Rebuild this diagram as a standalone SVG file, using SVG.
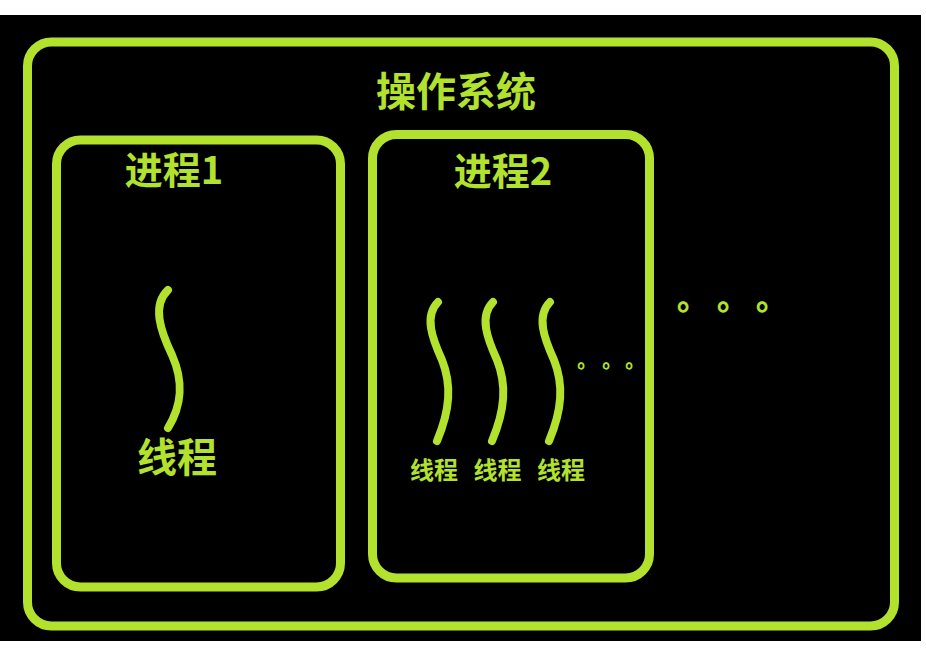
<svg xmlns="http://www.w3.org/2000/svg" width="926" height="648" viewBox="0 0 926 648">
<style>
.box{fill:none;stroke:#B2E22E;stroke-width:9}
.thr{fill:none;stroke:#B2E22E;stroke-width:8;stroke-linecap:round}
.t{fill:#B2E22E;font-family:"Microsoft YaHei","Noto Sans CJK SC",sans-serif;font-weight:bold;text-anchor:middle}
.dot{fill:#B2E22E;font-family:"Noto Sans CJK TC",sans-serif;font-weight:900;text-anchor:middle}
</style>
<rect x="0" y="0" width="926" height="648" fill="#ffffff"/>
<rect x="0" y="15" width="921" height="626" fill="#000000"/>
<g id="os">
<rect class="box" x="27.5" y="42" width="867" height="584" rx="24"/>
<text class="t" x="456" y="106" font-size="40">操作系统</text>
<text class="dot" x="683" y="319" font-size="32">。</text>
<text class="dot" x="723" y="319" font-size="32">。</text>
<text class="dot" x="762" y="319" font-size="32">。</text>
</g>
<g id="process1">
<rect class="box" x="56.5" y="140" width="284" height="447" rx="24"/>
<text class="t" x="174" y="184" font-size="38">进程1</text>
</g>
<g id="process2">
<rect class="box" x="372.5" y="134.5" width="277" height="443.5" rx="24"/>
<text class="t" x="503" y="185" font-size="38">进程2</text>
<text class="dot" x="581" y="374" font-size="20">。</text>
<text class="dot" x="606" y="374" font-size="20">。</text>
<text class="dot" x="629" y="374" font-size="20">。</text>
</g>
<g id="thread1">
<path class="thr" d="M168,290 C152,305 160,330 172,355 C184,382 182,405 168,428"/>
<text class="t" x="177" y="472" font-size="40">线程</text>
</g>
<g id="thread2a">
<path class="thr" d="M438,302 C424,316 432,338 442,360 C452,385 450,410 437,441"/>
<text class="t" x="434" y="479" font-size="24">线程</text>
</g>
<g id="thread2b">
<path class="thr" d="M493,302 C479,316 487,338 497,360 C507,385 505,410 492,441"/>
<text class="t" x="497.5" y="479" font-size="24">线程</text>
</g>
<g id="thread2c">
<path class="thr" d="M550,302 C536,316 544,338 554,360 C564,385 562,410 549,441"/>
<text class="t" x="561" y="479" font-size="24">线程</text>
</g>
<g id="connectors"></g>
</svg>
